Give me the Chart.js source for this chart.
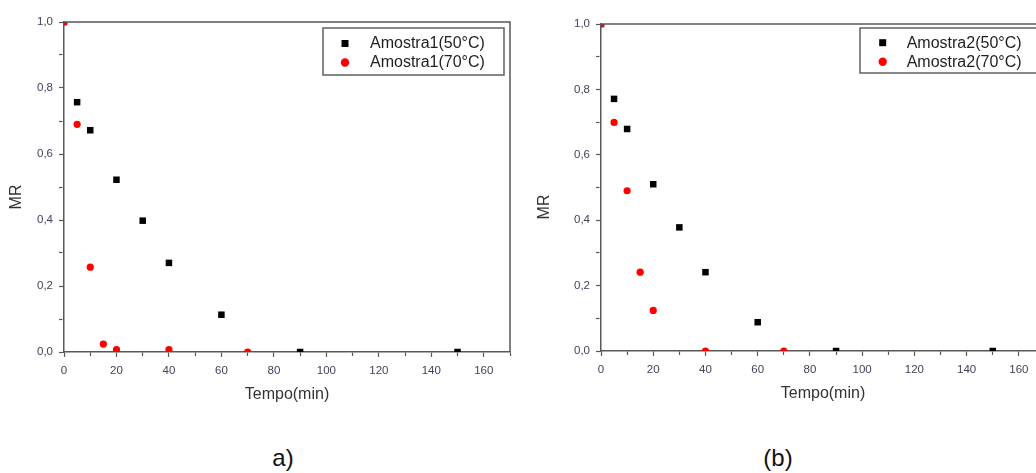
<!DOCTYPE html>
<html>
<head>
<meta charset="utf-8">
<script src="https://cdn.jsdelivr.net/npm/chart.js@4/dist/chart.umd.min.js"></script>
<style>
  html, body { margin:0; padding:0; background:#fff; width:1036px; height:473px; overflow:hidden; }
  .wrap { position:absolute; top:0; }
  .lab { position:absolute; font-family: Arial, "Liberation Sans", sans-serif; font-size:24px; color:#111; transform:translateX(-50%); white-space:nowrap; }
</style>
</head>
<body>
<div class="wrap" style="left:0px;"><canvas id="cA" width="520" height="420"></canvas></div>
<div class="wrap" style="left:520px;"><canvas id="cB" width="540" height="420"></canvas></div>
<div class="lab" style="left:283px; top:444px;">a)</div>
<div class="lab" style="left:778px; top:444px;">(b)</div>
<script>
// ---- data ----
const timeA50 = [0, 5, 10, 20, 30, 40, 60, 90, 150];
const mrA50   = [1.0, 0.757, 0.672, 0.522, 0.398, 0.270, 0.113, 0.0, 0.0];
const timeA70 = [0, 5, 10, 15, 20, 40, 70];
const mrA70   = [1.0, 0.690, 0.257, 0.024, 0.007, 0.007, 0.0];

const timeB50 = [0, 5, 10, 20, 30, 40, 60, 90, 150];
const mrB50   = [1.0, 0.771, 0.679, 0.510, 0.378, 0.241, 0.088, 0.0, 0.0];
const timeB70 = [0, 5, 10, 15, 20, 40, 70];
const mrB70   = [1.0, 0.699, 0.490, 0.241, 0.124, 0.0, 0.0];

const seriesNamesA = ['Amostra1(50°C)', 'Amostra1(70°C)'];
const seriesNamesB = ['Amostra2(50°C)', 'Amostra2(70°C)'];
const xTitle = 'Tempo(min)';
const yTitle = 'MR';

// ---- style ----
const FONT = 'Arial, "Liberation Sans", sans-serif';
const AXIS = '#585858';
const TICKTXT = '#42425a';

function pts(xs, ys) { return xs.map((x, i) => ({x: x, y: ys[i]})); }

function decoPlugin(opt) {
  return {
    id: 'deco',
    afterDraw(chart) {
      const ctx = chart.ctx, a = chart.chartArea;
      ctx.save();
      ctx.strokeStyle = AXIS; ctx.lineWidth = 1.5;
      ctx.beginPath();
      ctx.moveTo(a.left, a.top); ctx.lineTo(a.right, a.top); ctx.lineTo(a.right, a.bottom);
      ctx.stroke();
      const L = opt.legend;
      ctx.fillStyle = '#fff';
      ctx.fillRect(L.x, L.y, L.w, L.h);
      ctx.strokeStyle = '#606060'; ctx.lineWidth = 1.5;
      ctx.strokeRect(L.x, L.y, L.w, L.h);
      ctx.font = '16px ' + FONT;
      ctx.textBaseline = 'middle'; ctx.textAlign = 'left';
      chart.data.datasets.slice().sort((p, q) => p.legendIndex - q.legendIndex).forEach((ds, i) => {
        const yy = L.y + L.row0 + i * L.rowGap;
        ctx.fillStyle = ds.backgroundColor;
        if (ds.pointStyle === 'rect') {
          ctx.fillRect(L.mx - 3.5, yy - 3.5, 7, 7);
        } else {
          ctx.beginPath(); ctx.arc(L.mx, yy, 4.2, 0, Math.PI * 2); ctx.fill();
        }
        ctx.fillStyle = '#1e1e1e';
        ctx.fillText(ds.label, L.tx, yy + 0.5);
      });
      ctx.fillStyle = '#333';
      ctx.font = '16px ' + FONT;
      ctx.textAlign = 'center'; ctx.textBaseline = 'middle';
      ctx.fillText(xTitle, (a.left + a.right) / 2, opt.xTitleY);
      ctx.translate(opt.yTitleX, opt.yTitleY);
      ctx.rotate(-Math.PI / 2);
      ctx.fillText(yTitle, 0, 0);
      ctx.restore();
    }
  };
}

function makeChart(id, names, t50, m50, t70, m70, lay) {
  return new Chart(document.getElementById(id), {
    type: 'scatter',
    data: {
      datasets: [
        { label: names[1], data: pts(t70, m70), pointStyle: 'circle', pointRadius: 3.6,
          backgroundColor: '#ff0000', borderColor: '#ff0000', borderWidth: 0, order: 0, legendIndex: 1, clip: 0 },
        { label: names[0], data: pts(t50, m50), pointStyle: 'rect', pointRadius: 4.6,
          backgroundColor: '#000000', borderColor: '#000000', borderWidth: 0, order: 1, legendIndex: 0, clip: 0 }
      ]
    },
    options: {
      responsive: false, animation: false, devicePixelRatio: 1,
      layout: { padding: { top: lay.top, right: lay.right, left: 0, bottom: 0 } },
      plugins: { legend: { display: false }, tooltip: { enabled: false } },
      scales: {
        x: {
          type: 'linear', min: 0, max: 170,
          afterFit: s => { s.height = lay.xh; },
          border: { display: true, color: AXIS, width: 1.5 },
          grid: { drawOnChartArea: false, drawTicks: true, tickLength: 5, tickColor: AXIS, tickWidth: 1.2,
                  tickBorderDash: c => (Math.round(c.tick ? c.tick.value : 0) % 20 === 0 ? [] : [3.5, 50]) },
          ticks: { stepSize: 10, padding: 7, color: TICKTXT, font: { family: FONT, size: 11.5 }, maxRotation: 0, autoSkip: false,
                   callback: v => (Math.round(v) % 20 === 0 && Math.round(v) <= 160) ? String(Math.round(v)) : '' }
        },
        y: {
          type: 'linear', min: 0, max: 1,
          afterFit: s => { s.width = lay.yw; },
          border: { display: true, color: AXIS, width: 1.5 },
          grid: { drawOnChartArea: false, drawTicks: true, tickLength: 5, tickColor: AXIS, tickWidth: 1.2,
                  tickBorderDash: c => (Math.round((c.tick ? c.tick.value : 0) * 10) % 2 === 0 ? [] : [3.5, 50]) },
          ticks: { stepSize: 0.1, padding: 6, color: TICKTXT, font: { family: FONT, size: 11.5 }, autoSkip: false,
                   callback: v => { const k = Math.round(v * 10); return k % 2 === 0 ? (k / 10).toFixed(1).replace('.', ',') : ''; } }
        }
      }
    },
    plugins: [decoPlugin(lay)]
  });
}

makeChart('cA', seriesNamesA, timeA50, mrA50, timeA70, mrA70, {
  top: 22, right: 10, xh: 68, yw: 64,
  xTitleY: 395, yTitleX: 17, yTitleY: 197,
  legend: { x: 323, y: 28, w: 181, h: 47, row0: 15.5, rowGap: 19, mx: 345, tx: 370 }
});
makeChart('cB', seriesNamesB, timeB50, mrB50, timeB70, mrB70, {
  top: 24, right: 15, xh: 69, yw: 81,
  xTitleY: 394, yTitleX: 25, yTitleY: 207,
  legend: { x: 340, y: 28, w: 179, h: 45, row0: 14.7, rowGap: 19, mx: 362.7, tx: 386.7 }
});
</script>
</body>
</html>
